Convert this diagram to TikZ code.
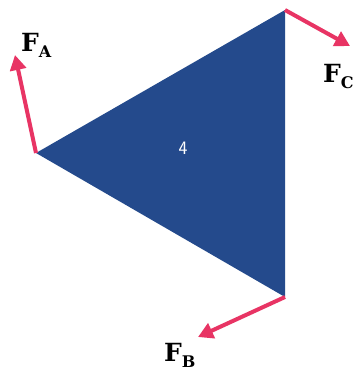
\documentclass[tikz,border=0pt]{standalone}
\usepackage{fontspec}
\newfontfamily\slabfont{DejaVu Serif}
\usetikzlibrary{arrows.meta}
\definecolor{triblue}{RGB}{36,74,140}
\definecolor{forcered}{RGB}{232,52,100}
\tikzset{
  force/.style={draw=forcered, line width=4pt, -{Triangle[length=15pt,width=16pt]}},
  flabel/.style={font=\slabfont\bfseries\fontsize{25}{25}\selectfont, inner sep=0pt, anchor=base west},
  vtx/.style={coordinate}
}
\newcommand{\fsub}[1]{\raisebox{-6pt}{\fontsize{16}{16}\selectfont #1}}
\begin{document}
\begin{tikzpicture}[x=1pt,y=-1pt]
\useasboundingbox (0,0) rectangle (357,378);
\fill[white] (0,0) rectangle (357,378);
\coordinate (A) at (36,153);
\coordinate (C) at (285,10);
\coordinate (B) at (285,297);
\fill[triblue] (A) -- (C) -- (B) -- cycle;
\node[text=white, font=\sffamily\fontsize{19}{19}\selectfont] (n4) at (183,148) {4};
\coordinate (fa) at (15,55);
\coordinate (fc) at (350,46);
\coordinate (fb) at (198,337);
\draw[force] (A) -- (fa);
\draw[force] (C) -- (fc);
\draw[force] (B) -- (fb);
\node[flabel] (la) at (21,51) {F\fsub{A}};
\node[flabel] (lc) at (323,82) {F\fsub{C}};
\node[flabel] (lb) at (164,361) {F\fsub{B}};
\end{tikzpicture}
\end{document}
